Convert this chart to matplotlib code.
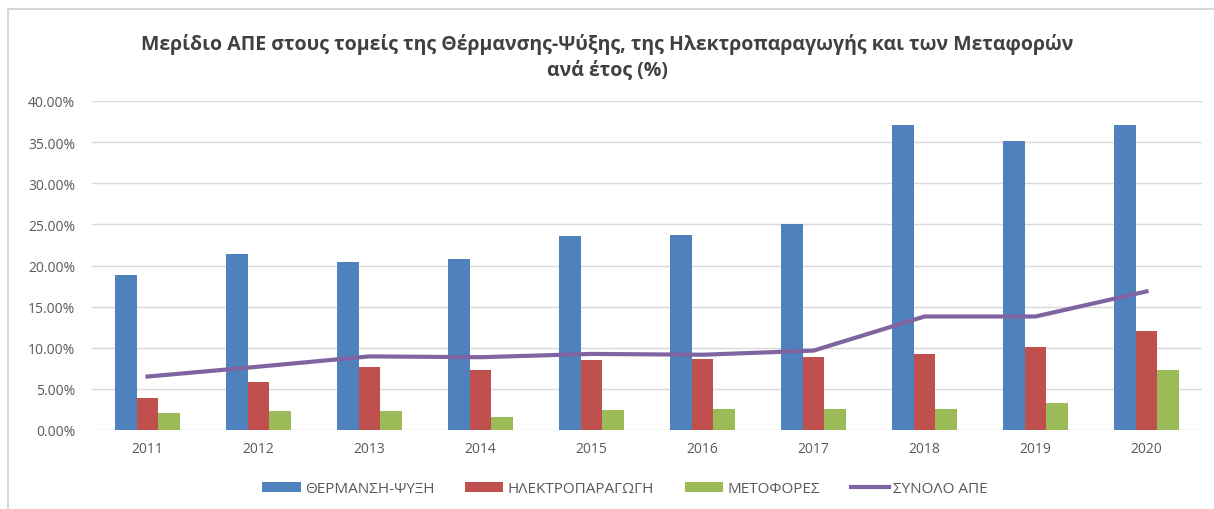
# -*- coding: utf-8 -*-
import numpy as np
import matplotlib
matplotlib.use("Agg")
from matplotlib import pyplot as plt
from matplotlib.patches import Rectangle
from matplotlib.ticker import FuncFormatter

plt.rcParams['font.family'] = ['Open Sans', 'DejaVu Sans']

years = ['2011', '2012', '2013', '2014', '2015', '2016', '2017', '2018', '2019', '2020']
thermansi = [18.8, 21.45, 20.4, 20.8, 23.6, 23.7, 25.0, 37.1, 35.1, 37.1]
ilektro = [3.9, 5.85, 7.6, 7.35, 8.45, 8.6, 8.9, 9.3, 10.1, 12.0]
metafores = [2.1, 2.3, 2.3, 1.55, 2.4, 2.6, 2.5, 2.5, 3.3, 7.3]
synolo = [6.5, 7.7, 8.95, 8.85, 9.25, 9.15, 9.65, 13.8, 13.8, 16.85]

labels = ['ΘΕΡΜΑΝΣΗ-ΨΥΞΗ', 'ΗΛΕΚΤΡΟΠΑΡΑΓΩΓΗ', 'ΜΕΤΟΦΟΡΕΣ', 'ΣΥΝΟΛΟ ΑΠΕ']
colors = ['#4F81BD', '#C0504D', '#9BBB59', '#8064A2']

fig = plt.figure(figsize=(12.14, 5.1), dpi=100)
# περίγραμμα γραφήματος (πάνω και αριστερά)
fig.patches.append(Rectangle((8 / 1214, -0.1), 1.2, 1.1 - 10 / 510, transform=fig.transFigure,
                             fill=False, edgecolor='#d0d0d0', lw=1.2))
ax = fig.add_axes([92 / 1214, 1 - 431 / 510, 1110 / 1214, 329 / 510])

x = np.arange(len(years))
w = 0.193
b1 = ax.bar(x - w, thermansi, w, color=colors[0], label=labels[0], zorder=3)
b2 = ax.bar(x, ilektro, w, color=colors[1], label=labels[1], zorder=3)
b3 = ax.bar(x + w, metafores, w, color=colors[2], label=labels[2], zorder=3)
l1, = ax.plot(x, synolo, color=colors[3], lw=3, label=labels[3], zorder=4)

ax.set_xlim(-0.5, len(years) - 0.5)
ax.set_ylim(0, 40)
ax.set_yticks(np.arange(0, 40.1, 5))
ax.yaxis.set_major_formatter(FuncFormatter(lambda v, p: '%.2f%%' % v))
ax.set_xticks(x)
ax.set_xticklabels(years)
ax.grid(axis='y', color='#d9d9d9', lw=1, zorder=0)
for s in ax.spines.values():
    s.set_visible(False)
ax.tick_params(length=0, labelsize=10, colors='#595959', pad=8)
ax.tick_params(axis='y', pad=12)

fig.text(0.5, 0.888, 'Μερίδιο ΑΠΕ στους τομείς της Θέρμανσης-Ψύξης, της Ηλεκτροπαραγωγής και των Μεταφορών\nανά έτος (%)',
         ha='center', va='center', fontsize=14, fontweight='bold', color='#404040', linespacing=1.3)

fig.legend([b1, b2, b3, l1], labels, loc='center', bbox_to_anchor=(0.515, 1 - 490 / 510), ncol=4,
           frameon=False, fontsize=11, labelcolor='#595959', handlelength=2.5, handleheight=0.6,
           columnspacing=2.0, handletextpad=0.3)

fig.savefig('out.png', dpi=100)
